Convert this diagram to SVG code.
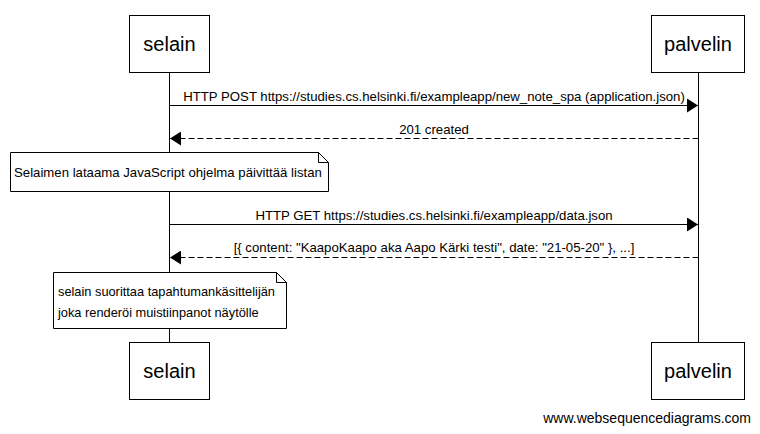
<svg xmlns="http://www.w3.org/2000/svg" width="760" height="434" viewBox="0 0 760 434">
<style>
.box{fill:#fff;stroke:#000;stroke-width:1}
.pl{font-family:"Liberation Sans",Arial,sans-serif;font-size:20px;fill:#000;text-anchor:middle}
.lbl{font-family:"Liberation Sans",Arial,sans-serif;font-size:13.2px;fill:#000;text-anchor:middle}
.nt{font-family:"Liberation Sans",Arial,sans-serif;font-size:13.2px;fill:#000}
.nt2{font-family:"Liberation Sans",Arial,sans-serif;font-size:12.8px;fill:#000}
.life{stroke:#000;stroke-width:1}
.msg{stroke:#000;stroke-width:1;fill:none}
.dash{stroke-dasharray:6,3}
</style>
<defs>
<marker id="ah" viewBox="0 0 11 14" refX="11" refY="7" markerWidth="11" markerHeight="14" markerUnits="userSpaceOnUse" orient="auto">
<path d="M0,0 L11,7 L0,14 Z" fill="#000"/>
</marker>
</defs>
<rect width="760" height="434" fill="#fff"/>
<g id="lifelines">
<line class="life" x1="169.5" y1="72.5" x2="169.5" y2="342.5"/>
<line class="life" x1="698.5" y1="72.5" x2="698.5" y2="342.5"/>
</g>
<g id="selain">
<rect class="box" x="129.5" y="15.5" width="80" height="57"/>
<text class="pl" x="169.5" y="51">selain</text>
</g>
<g id="palvelin">
<rect class="box" x="651.5" y="15.5" width="93" height="57"/>
<text class="pl" x="698" y="51">palvelin</text>
</g>
<g id="selain-bottom">
<rect class="box" x="129.5" y="342.5" width="80" height="57"/>
<text class="pl" x="169.5" y="378">selain</text>
</g>
<g id="palvelin-bottom">
<rect class="box" x="651.5" y="342.5" width="93" height="57"/>
<text class="pl" x="698" y="378">palvelin</text>
</g>
<g id="connectors">
<line class="msg" x1="169.5" y1="105.5" x2="698" y2="105.5" marker-end="url(#ah)"/>
<text class="lbl" x="434" y="101">HTTP POST https://studies.cs.helsinki.fi/exampleapp/new_note_spa (application.json)</text>
<line class="msg dash" x1="698.5" y1="138.5" x2="170" y2="138.5" marker-end="url(#ah)"/>
<text class="lbl" x="434" y="134">201 created</text>
<line class="msg" x1="169.5" y1="224.5" x2="698" y2="224.5" marker-end="url(#ah)"/>
<text class="lbl" x="434" y="220">HTTP GET https://studies.cs.helsinki.fi/exampleapp/data.json</text>
<line class="msg dash" x1="698.5" y1="257.5" x2="170" y2="257.5" marker-end="url(#ah)"/>
<text class="lbl" x="434" y="252">[{ content: "KaapoKaapo aka Aapo Kärki testi", date: "21-05-20" }, ...]</text>
</g>
<g id="note1">
<path class="box" d="M10.5,152.5 H318.5 L328.5,162.5 V191.5 H10.5 Z"/>
<path class="msg" d="M318.5,152.5 V162.5 H328.5"/>
<text class="nt" x="14" y="177">Selaimen lataama JavaScript ohjelma päivittää listan</text>
</g>
<g id="note2">
<path class="box" d="M53.5,272.5 H276.5 L286.5,282.5 V328.5 H53.5 Z"/>
<path class="msg" d="M276.5,272.5 V282.5 H286.5"/>
<text class="nt2" x="58" y="296">selain suorittaa tapahtumankäsittelijän</text>
<text class="nt2" x="58" y="317">joka renderöi muistiinpanot näytölle</text>
</g>
<text x="751" y="423" font-family="'Liberation Sans',Arial,sans-serif" font-size="14" text-anchor="end" fill="#000">www.websequencediagrams.com</text>
</svg>
